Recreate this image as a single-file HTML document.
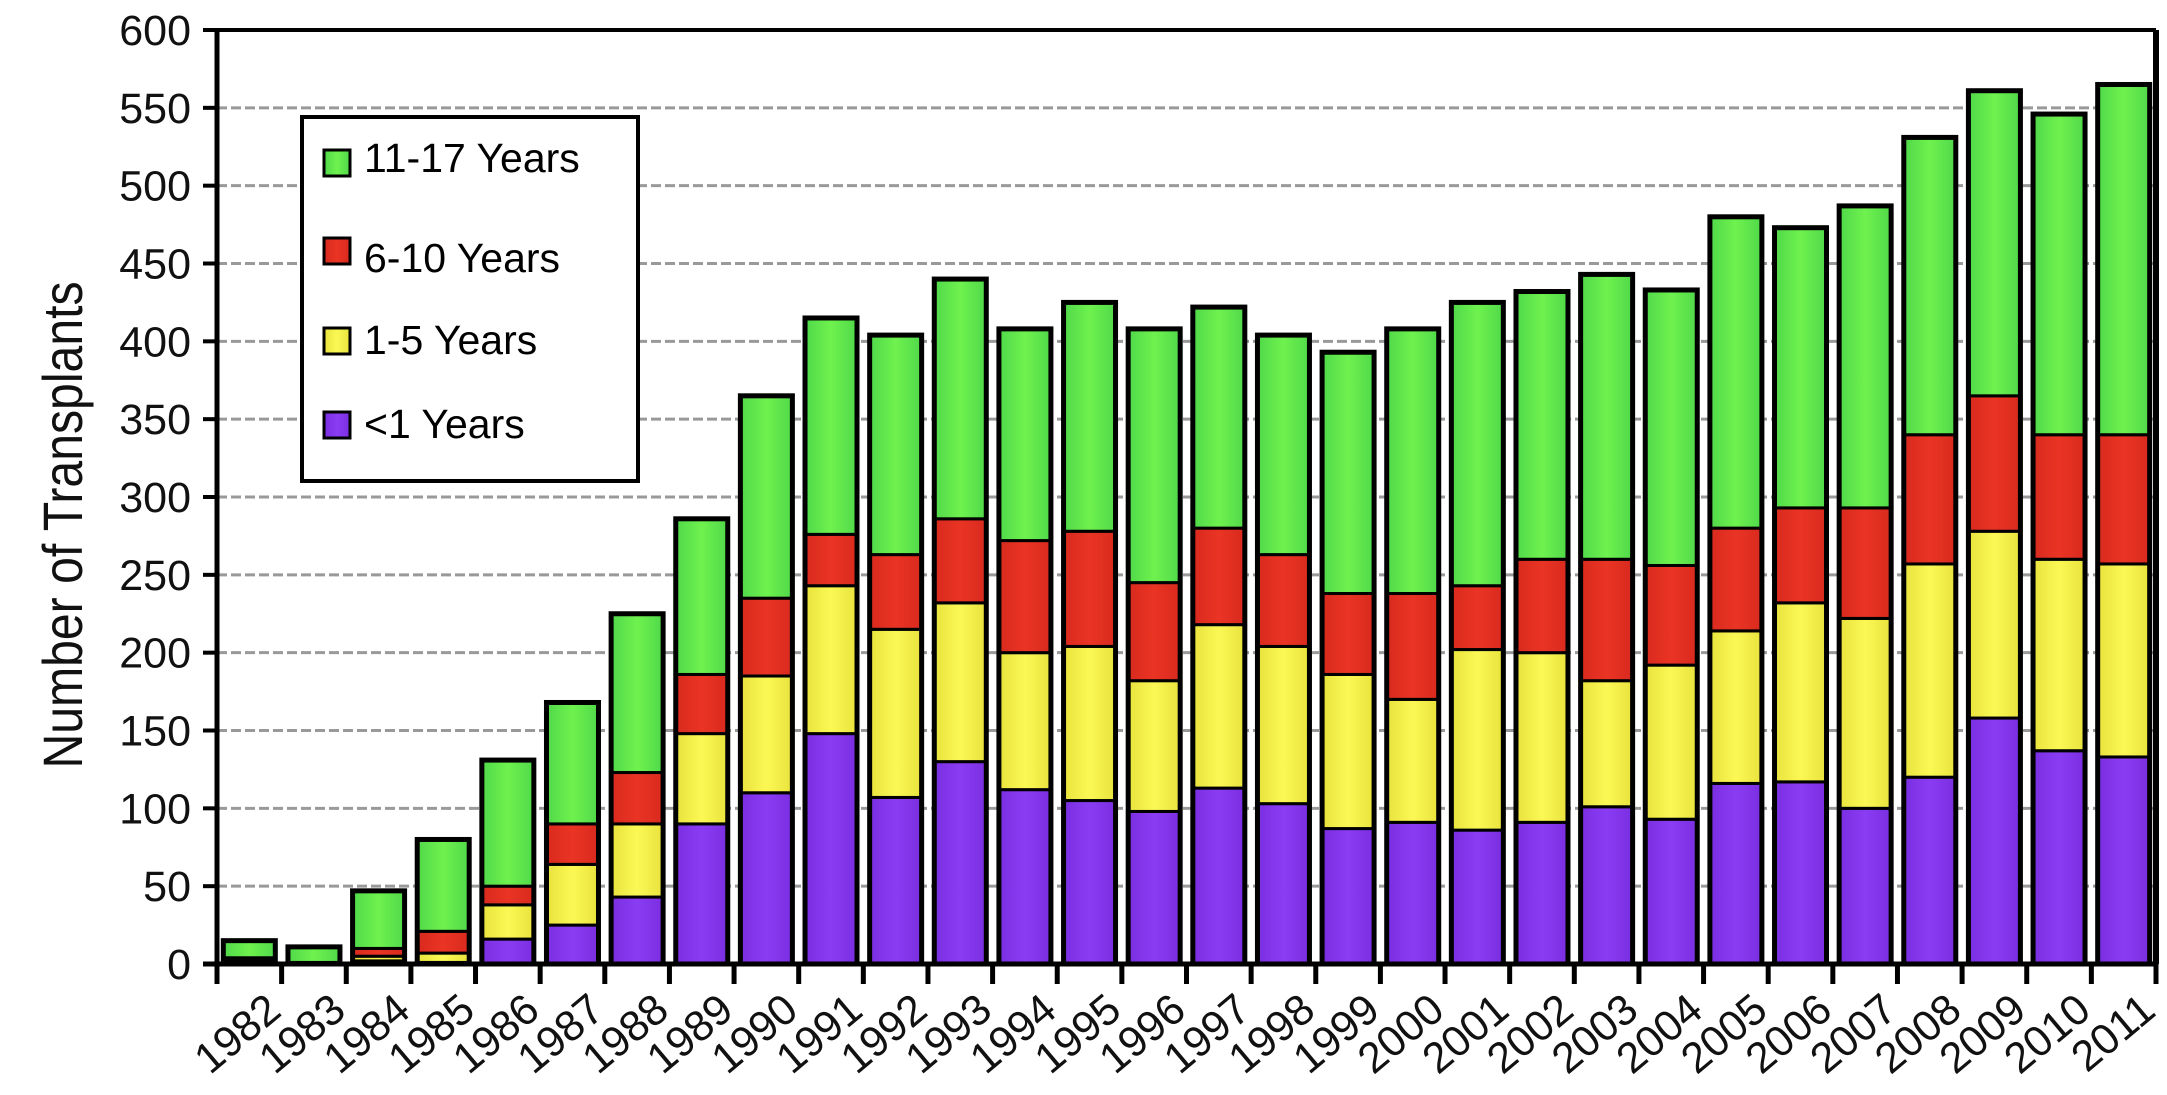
<!DOCTYPE html>
<html><head><meta charset="utf-8"><style>
html,body{margin:0;padding:0;background:#fff;}
svg{display:block;font-family:"Liberation Sans",Arial,sans-serif;}
</style></head><body>
<svg id="chart" width="2167" height="1095" viewBox="0 0 2167 1095" xmlns="http://www.w3.org/2000/svg">
<defs>
<linearGradient id="gG" x1="0" x2="1"><stop offset="0" stop-color="#4fd84a"/><stop offset="0.5" stop-color="#6ff24e"/><stop offset="1" stop-color="#4fd84a"/></linearGradient>
<linearGradient id="gR" x1="0" x2="1"><stop offset="0" stop-color="#d82a1e"/><stop offset="0.5" stop-color="#ea3424"/><stop offset="1" stop-color="#d82a1e"/></linearGradient>
<linearGradient id="gY" x1="0" x2="1"><stop offset="0" stop-color="#e8e23c"/><stop offset="0.5" stop-color="#fbf855"/><stop offset="1" stop-color="#e8e23c"/></linearGradient>
<linearGradient id="gP" x1="0" x2="1"><stop offset="0" stop-color="#7a2ee0"/><stop offset="0.5" stop-color="#8a3cf3"/><stop offset="1" stop-color="#7a2ee0"/></linearGradient>
</defs>
<g id="grid"></g>
<g id="bars"></g>
<g id="axes"></g>
<text transform="translate(82,525) rotate(-90) scale(0.86,1)" text-anchor="middle" font-size="56" fill="#111">Number of Transplants</text>
<g>
<rect x="302" y="117" width="336" height="364" fill="#fff" stroke="#000" stroke-width="4"/>
<rect x="324" y="150" width="26" height="26" fill="url(#gG)" stroke="#000" stroke-width="3"/>
<text x="364" y="172" font-size="41">11-17 Years</text>
<rect x="324" y="238" width="26" height="26" fill="url(#gR)" stroke="#000" stroke-width="3"/>
<text x="364" y="272" font-size="41">6-10 Years</text>
<rect x="324" y="328" width="26" height="26" fill="url(#gY)" stroke="#000" stroke-width="3"/>
<text x="364" y="354" font-size="41">1-5 Years</text>
<rect x="324" y="412" width="26" height="26" fill="url(#gP)" stroke="#000" stroke-width="3"/>
<text x="364" y="438" font-size="41">&lt;1 Years</text>
</g>
</svg>
<script>
const years = ["1982","1983","1984","1985","1986","1987","1988","1989","1990","1991","1992","1993","1994","1995","1996","1997","1998","1999","2000","2001","2002","2003","2004","2005","2006","2007","2008","2009","2010","2011"];
const under1 = [2,1,2,1,16,25,43,90,110,148,107,130,112,105,98,113,103,87,91,86,91,101,93,116,117,100,120,158,137,133];
const age1to5 = [1,0,3,6,22,39,47,58,75,95,108,102,88,99,84,105,101,99,79,116,109,81,99,98,115,122,137,120,123,124];
const age6to10 = [1,0,5,14,12,26,33,38,50,33,48,54,72,74,63,62,59,52,68,41,60,78,64,66,61,71,83,87,80,83];
const age11to17 = [11,10,37,59,81,78,102,100,130,139,141,154,136,147,163,142,141,155,170,182,172,183,177,200,180,194,191,196,206,225];
const yTicks = [0,50,100,150,200,250,300,350,400,450,500,550,600];

const NS='http://www.w3.org/2000/svg';
const L=217,R=2156,T=30,B=964,YMAX=600;
const slot=(R-L)/years.length, bw=52;
const y=v=>B-(v/YMAX)*(B-T);
const xc=i=>L+slot*(i+0.5);
function mk(tag,attrs,parent){const e=document.createElementNS(NS,tag);for(const k in attrs)e.setAttribute(k,attrs[k]);parent.appendChild(e);return e;}
const grid=document.getElementById('grid'),bars=document.getElementById('bars'),axes=document.getElementById('axes');
yTicks.forEach(t=>{
  if(t>0&&t<YMAX){const g=mk('line',{x1:L,x2:R,y1:y(t),y2:y(t),stroke:'#999','stroke-width':3,'stroke-dasharray':'10 4'},grid);
  
  }
  const tk=mk('line',{x1:L-14,x2:L,y1:y(t),y2:y(t),stroke:'#000','stroke-width':4},axes);
  
  
  const lb=mk('text',{x:L-26,y:y(t)+15,'text-anchor':'end','font-size':43,fill:'#111'},axes);
  lb.textContent=t;
  
  
});
const series=[[under1,'url(#gP)','under-1'],[age1to5,'url(#gY)','1-5'],[age6to10,'url(#gR)','6-10'],[age11to17,'url(#gG)','11-17']];
years.forEach((yr,i)=>{
  let cum=0;const x0=xc(i)-bw/2;
  series.forEach(([arr,fill,nm])=>{
    const v=arr[i];if(v<=0){return;}
    const r=mk('rect',{x:x0,y:y(cum+v),width:bw,height:y(cum)-y(cum+v),fill:fill,stroke:'#000','stroke-width':3},bars);
    
    
    cum+=v;
  });
  const o=mk('rect',{x:x0,y:y(cum),width:bw,height:B-y(cum),fill:'none',stroke:'#000','stroke-width':5},bars);
  
  
  const tk=mk('line',{x1:L+slot*i,x2:L+slot*i,y1:B,y2:B+20,stroke:'#000','stroke-width':5},axes);
  
  
  const lx=xc(i)+34,ly=B+50;
  const t=mk('text',{x:lx,y:ly,'text-anchor':'end','font-size':43,fill:'#111',transform:`rotate(-40 ${lx} ${ly})`},axes);
  t.textContent=yr;
  
  
});
const lastTk=mk('line',{x1:R,x2:R,y1:B,y2:B+20,stroke:'#000','stroke-width':5},axes);


const ax=[['y-axis-line',L,T,L,B,5],['x-axis-line',L-14,B,R,B,5],['top-border',L-14,T,R,T,4],['right-border',R,T,R,B,6]];
ax.forEach(([n,x1,y1,x2,y2,w])=>{const l=mk('line',{x1,y1,x2,y2,stroke:'#000','stroke-width':w},axes);

});
</script>
</body></html>
